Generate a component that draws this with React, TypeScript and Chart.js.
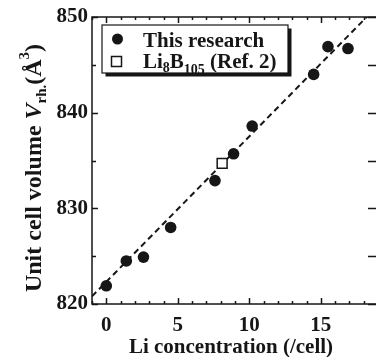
import React, { useEffect, useRef } from "react";
import { Chart, registerables } from "chart.js";

Chart.register(...registerables);

// ---- data ----
const liConc = [0, 1.4, 2.6, 4.5, 7.6, 8.9, 10.2, 14.5, 15.5, 16.9];
const cellVolume = [821.9, 824.5, 824.9, 828.0, 832.9, 835.7, 838.6, 844.0, 846.9, 846.7];
const refConc = [8.1];
const refVolume = [834.7];
const fitConc = [-1, 19];
const fitVolume = [820.8, 851.2];
const xTickLabels = [0, 5, 10, 15];
const yTickLabels = [820, 830, 840, 850];
const yMinorTicks = [825, 835, 845];

const INK = "#161616";
const SERIF = "'Liberation Serif', 'Times New Roman', serif";

function drawRuns(ctx: CanvasRenderingContext2D, runs: { t: string; font: string; dy: number }[], x0: number, y0: number) {
  let x = x0;
  for (const r of runs) {
    ctx.font = r.font;
    ctx.fillText(r.t, x, y0 + r.dy);
    x += ctx.measureText(r.t).width;
  }
}
function runsWidth(ctx: CanvasRenderingContext2D, runs: { t: string; font: string; dy: number }[]) {
  let w = 0;
  for (const r of runs) {
    ctx.font = r.font;
    w += ctx.measureText(r.t).width;
  }
  return w;
}

const decor = {
  id: "decor",
  beforeDatasetsDraw(chart: any) {
    const { ctx, chartArea: a, scales } = chart;
    const x = scales.x;
    const y = scales.y;
    ctx.save();
    ctx.strokeStyle = INK;
    ctx.lineWidth = 1.5;
    ctx.strokeRect(a.left, a.top, a.right - a.left, a.bottom - a.top);
    ctx.beginPath();
    for (let v = Math.ceil(x.min); v <= x.max; v++) {
      const px = Math.round(x.getPixelForValue(v)) + 0.5;
      const len = xTickLabels.includes(v) ? 6 : 3;
      ctx.moveTo(px, a.bottom);
      ctx.lineTo(px, a.bottom - len);
      ctx.moveTo(px, a.top);
      ctx.lineTo(px, a.top + len);
    }
    for (const v of yTickLabels.concat(yMinorTicks)) {
      const py = Math.round(y.getPixelForValue(v)) + 0.5;
      const len = yTickLabels.includes(v) ? 6 : 4;
      ctx.moveTo(a.left, py);
      ctx.lineTo(a.left + len, py);
      ctx.moveTo(a.right, py);
      ctx.lineTo(a.right - 10, py);
    }
    ctx.stroke();
    ctx.restore();
  },
  afterDatasetsDraw(chart: any) {
    const { ctx } = chart;
    ctx.save();
    // legend box with shadow
    const bx = 102, by = 25, bw = 186, bh = 48;
    ctx.fillStyle = INK;
    ctx.fillRect(bx + 3.5, by + 3.5, bw, bh);
    ctx.fillStyle = "#fff";
    ctx.fillRect(bx, by, bw, bh);
    ctx.strokeStyle = INK;
    ctx.lineWidth = 1.2;
    ctx.strokeRect(bx, by, bw, bh);
    // markers
    ctx.fillStyle = INK;
    ctx.beginPath();
    ctx.arc(117.5, 39, 5.5, 0, Math.PI * 2);
    ctx.fill();
    ctx.lineWidth = 1.5;
    ctx.strokeRect(111.5, 56.5, 10, 10);
    // legend text
    ctx.fillStyle = INK;
    ctx.textAlign = "left";
    ctx.textBaseline = "alphabetic";
    const big = `bold 21px ${SERIF}`;
    const sub = `bold 14px ${SERIF}`;
    drawRuns(ctx, [{ t: "This research", font: big, dy: 0 }], 143, 47);
    drawRuns(
      ctx,
      [
        { t: "Li", font: big, dy: 0 },
        { t: "8", font: sub, dy: 4 },
        { t: "B", font: big, dy: 0 },
        { t: "105", font: sub, dy: 6 },
        { t: " (Ref. 2)", font: big, dy: 0 },
      ],
      143,
      68
    );
    // x title
    ctx.font = `bold 21px ${SERIF}`;
    ctx.textAlign = "center";
    ctx.fillText("Li concentration (/cell)", 231, 353);
    // y title
    ctx.textAlign = "left";
    const yf = `bold 24px ${SERIF}`;
    const yfi = `italic bold 24px ${SERIF}`;
    const ys = `bold 15px ${SERIF}`;
    const yRuns = [
      { t: "Unit cell volume ", font: yf, dy: 0 },
      { t: "V", font: yfi, dy: 0 },
      { t: "rh.", font: ys, dy: 5 },
      { t: "(Å", font: yf, dy: 0 },
      { t: "3", font: ys, dy: -12 },
      { t: ")", font: yf, dy: 0 },
    ];
    ctx.translate(41, 168);
    ctx.rotate(-Math.PI / 2);
    const w = runsWidth(ctx, yRuns);
    drawRuns(ctx, yRuns, -w / 2, 0);
    ctx.restore();
  },
};

export default function App() {
  const ref = useRef<HTMLCanvasElement | null>(null);
  useEffect(() => {
    if (!ref.current) return;
    const chart = new Chart(ref.current, {
      type: "scatter",
      data: {
        datasets: [
          {
            label: "This research",
            data: liConc.map((v, i) => ({ x: v, y: cellVolume[i] })),
            pointRadius: 5.8,
            pointBackgroundColor: INK,
            pointBorderColor: INK,
            pointBorderWidth: 0,
          },
          {
            label: "Li8B105 (Ref. 2)",
            data: refConc.map((v, i) => ({ x: v, y: refVolume[i] })),
            pointStyle: "rect",
            pointRadius: 7,
            pointBackgroundColor: "#fff",
            pointBorderColor: INK,
            pointBorderWidth: 1.5,
          },
          {
            type: "line",
            label: "fit",
            data: fitConc.map((v, i) => ({ x: v, y: fitVolume[i] })),
            showLine: true,
            borderColor: INK,
            borderWidth: 2,
            borderDash: [6, 4],
            pointRadius: 0,
            fill: false,
          } as any,
        ],
      },
      options: {
        animation: false,
        responsive: false,
        devicePixelRatio: 1,
        layout: { padding: { top: 17, right: 22, left: 0, bottom: 0 } },
        plugins: { legend: { display: false }, tooltip: { enabled: false } },
        scales: {
          x: {
            type: "linear",
            min: -1,
            max: 19,
            grid: { display: false, drawTicks: false },
            border: { display: false },
            afterBuildTicks: (s: any) => {
              s.ticks = xTickLabels.map((v) => ({ value: v }));
            },
            afterFit: (s: any) => {
              s.height = 53;
            },
            ticks: {
              color: INK,
              padding: 9,
              font: { family: SERIF, size: 21, weight: "bold" },
              maxRotation: 0,
            },
          },
          y: {
            min: 820,
            max: 850,
            grid: { display: false, drawTicks: false },
            border: { display: false },
            afterBuildTicks: (s: any) => {
              s.ticks = yTickLabels.map((v) => ({ value: v }));
            },
            afterFit: (s: any) => {
              s.width = 92;
            },
            ticks: {
              color: INK,
              padding: 4,
              font: { family: SERIF, size: 21, weight: "bold" },
            },
          },
        },
      },
      plugins: [decor],
    });
    return () => chart.destroy();
  }, []);
  return (
    <div style={{ position: "fixed", left: 0, top: 0, width: 400, height: 357, overflow: "hidden", background: "#fff" }}>
      <canvas ref={ref} width={400} height={357} style={{ display: "block" }} />
    </div>
  );
}
